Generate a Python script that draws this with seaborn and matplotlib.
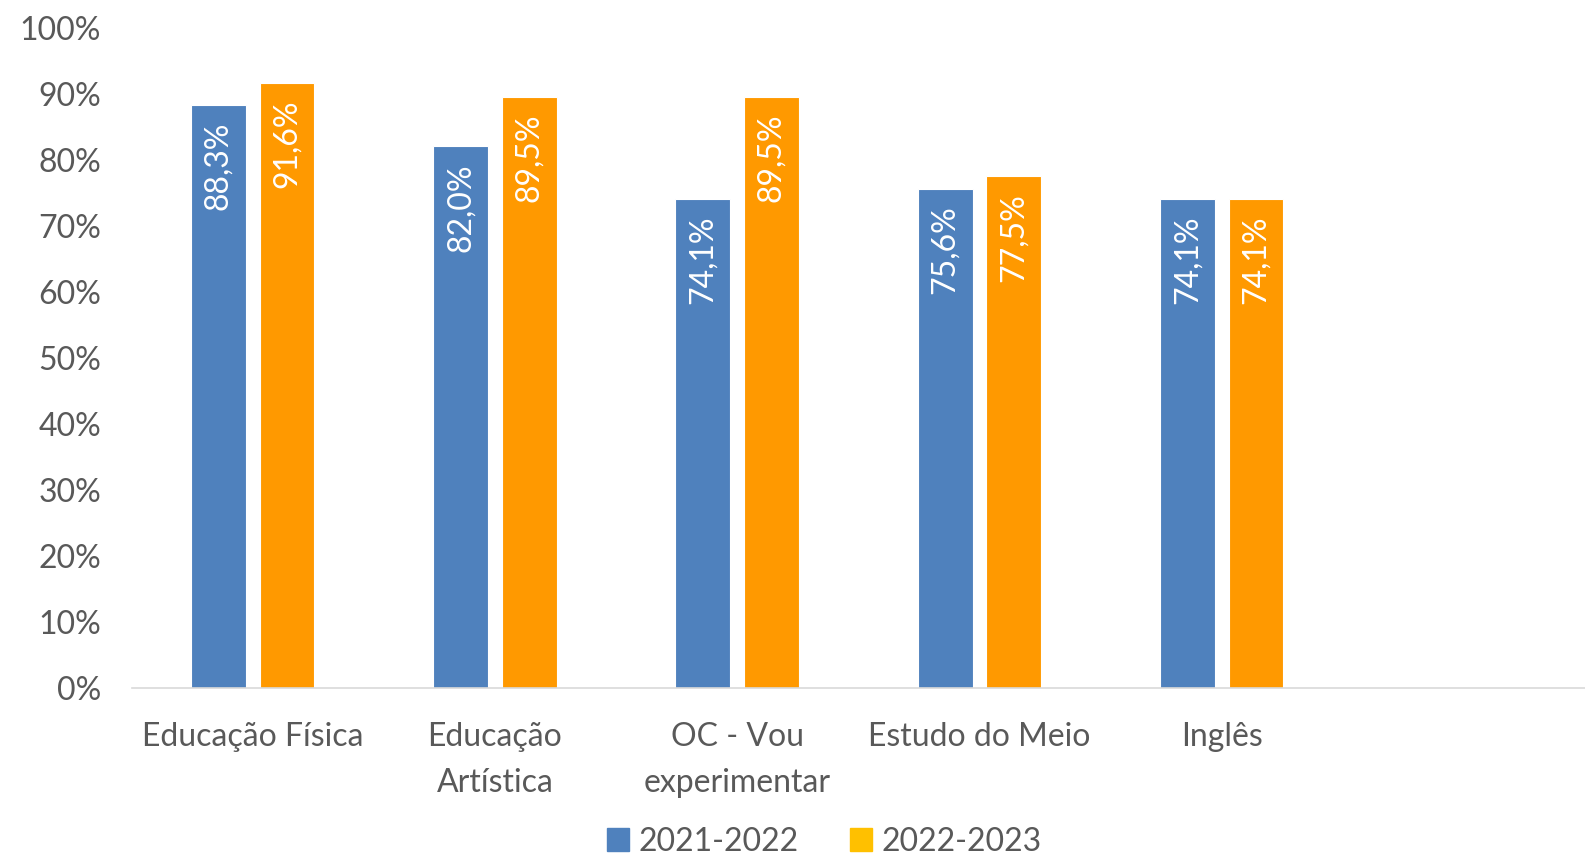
import pandas as pd
import matplotlib
matplotlib.use("Agg")
import matplotlib.pyplot as plt
import seaborn as sns
from matplotlib.ticker import FuncFormatter
from matplotlib.patches import Patch

categories = ["Educação Física", "Educação\nArtística", "OC - Vou\nexperimentar", "Estudo do Meio", "Inglês"]
years = ["2021-2022", "2022-2023"]
vals_2122 = [88.3, 82.0, 74.1, 75.6, 74.1]
vals_2223 = [91.6, 89.5, 89.5, 77.5, 74.1]

df = pd.DataFrame({
    "Disciplina": categories * 2,
    "Ano": [years[0]] * 5 + [years[1]] * 5,
    "Valor": vals_2122 + vals_2223,
})

sns.set_style("white")
plt.rcParams["font.family"] = ["Lato", "DejaVu Sans"]
text_color = "#595959"

fig = plt.figure(figsize=(15.85, 8.64), dpi=100)
ax = fig.add_axes([0.083, 0.204, 0.917, 0.764])

order = categories + [" "]
sns.barplot(data=df, x="Disciplina", y="Valor", hue="Ano", order=order,
            hue_order=years, palette=["#4F81BD", "#FF9900"], saturation=1,
            width=0.567, gap=0.2, edgecolor="white", linewidth=0.8,
            legend=False, ax=ax)

for bar in ax.patches:
    h = bar.get_height()
    if h > 0:
        ax.annotate(f"{h:.1f}%".replace(".", ","),
                    (bar.get_x() + bar.get_width() / 2, h),
                    xytext=(0, -12), textcoords="offset points",
                    ha="center", va="top", rotation=90,
                    color="white", fontsize=23)

ax.set_xlim(-0.5, 5.5)
ax.set_ylim(0, 100)
ax.set_yticks(range(0, 101, 10))
ax.yaxis.set_major_formatter(FuncFormatter(lambda v, p: f"{v:.0f}%"))
ax.set_xlabel("")
ax.set_ylabel("")
ax.tick_params(axis="both", length=0, colors=text_color, labelsize=23)
ax.tick_params(axis="x", pad=25)
ax.tick_params(axis="y", pad=22)
for lbl in ax.get_xticklabels():
    lbl.set_linespacing(1.65)
for s in ["top", "right", "left"]:
    ax.spines[s].set_visible(False)
ax.spines["bottom"].set_color("#D9D9D9")
ax.spines["bottom"].set_linewidth(1.2)

handles = [Patch(color="#4F81BD"), Patch(color="#FFC000")]
fig.legend(handles, years, loc="lower center", bbox_to_anchor=(0.52, -0.025),
           ncol=2, frameon=False, fontsize=23, labelcolor=text_color,
           handlelength=0.7, handleheight=0.7, handletextpad=0.3, columnspacing=1.6)

fig.savefig("out.png", dpi=100)
